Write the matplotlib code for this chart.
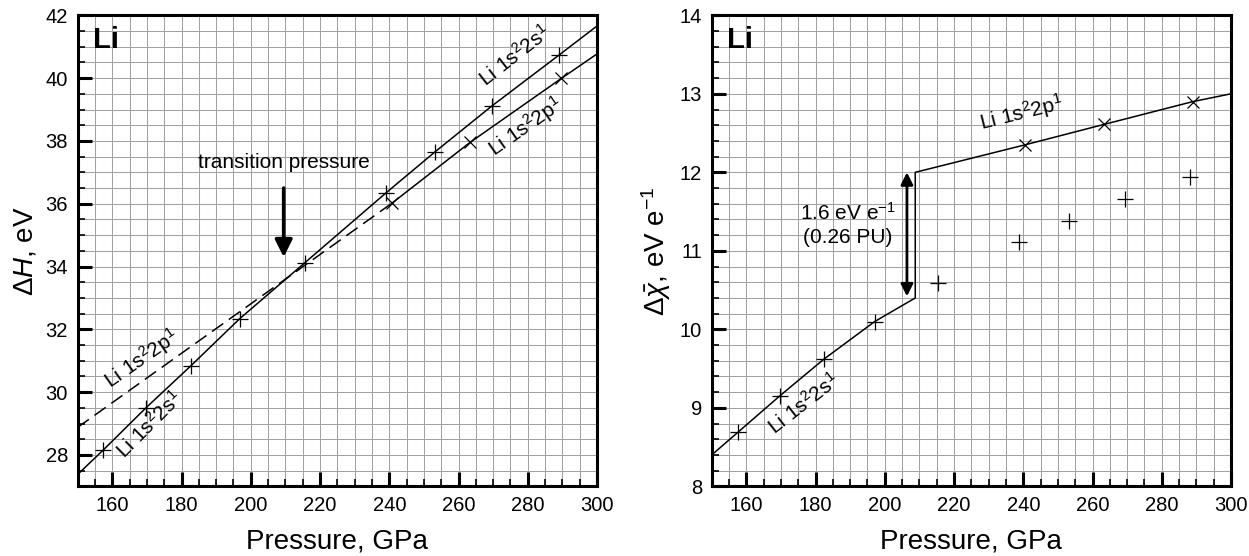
import numpy as np
import matplotlib
matplotlib.use("Agg")
import matplotlib.pyplot as plt
from matplotlib.ticker import MultipleLocator

plt.rcParams['font.family'] = ['Liberation Sans', 'DejaVu Sans']
plt.rcParams['mathtext.fontset'] = 'custom'
plt.rcParams['mathtext.rm'] = 'Liberation Sans'
plt.rcParams['mathtext.it'] = 'Liberation Sans:italic'

# =========================
# Left panel: enthalpy difference (eV)
# =========================
# Li 1s2 2s1 curve (solid, drawn through the marks)
dh_s_line_p = [150, 157.4, 169.7, 182.7, 196.8, 215.6, 239.1, 253.3, 269.6, 289.1, 300]
dh_s_line_v = [27.38, 28.16, 29.50, 30.84, 32.34, 34.12, 36.35, 37.66, 39.11, 40.74, 41.66]
dh_s_mark_p = [157.4, 169.7, 182.7, 196.8, 215.6, 239.1, 253.3, 269.6, 289.1]
dh_s_mark_v = [28.16, 29.50, 30.84, 32.34, 34.12, 36.35, 37.66, 39.11, 40.74]

# Li 1s2 2p1: dashed extrapolation at low pressure, solid above
dh_p_dash_p = [150, 240.8]
dh_p_dash_v = [28.88, 36.02]
dh_p_line_p = [240.8, 263.3, 289.7, 300]
dh_p_line_v = [36.02, 37.95, 39.99, 40.77]
dh_p_mark_p = [240.8, 263.3, 289.7]
dh_p_mark_v = [36.02, 37.95, 39.99]

TRANSITION_P = 209.5

# =========================
# Right panel: electronegativity difference (eV/e)
# =========================
dx_line_p = [150, 157.6, 169.6, 182.4, 197.1, 208.8, 208.8, 240.5, 263.3, 288.9, 300]
dx_line_v = [8.40, 8.69, 9.15, 9.62, 10.10, 10.40, 12.00, 12.35, 12.61, 12.90, 13.00]
dx_s_mark_p = [157.6, 169.6, 182.4, 197.1, 215.4, 238.9, 253.1, 269.3, 288.2]
dx_s_mark_v = [8.69, 9.15, 9.62, 10.10, 10.59, 11.11, 11.38, 11.66, 11.94]
dx_p_mark_p = [240.5, 263.3, 288.9]
dx_p_mark_v = [12.35, 12.61, 12.90]
GAP_P = 206.4
GAP_LOW, GAP_HIGH = 10.42, 12.0

S_LABEL = 'Li 1s$^{2}$2s$^{1}$'
P_LABEL = 'Li 1s$^{2}$2p$^{1}$'

TICK_FS = 14.5
LABEL_FS = 20
NOTE_FS = 15


def style_axes(ax, ymin, ymax, ymajor, yminor):
    ax.set_xlim(150, 300)
    ax.set_ylim(ymin, ymax)
    ax.xaxis.set_major_locator(MultipleLocator(20))
    ax.xaxis.set_minor_locator(MultipleLocator(5))
    ax.yaxis.set_major_locator(MultipleLocator(ymajor))
    ax.yaxis.set_minor_locator(MultipleLocator(yminor))
    ax.grid(True, which='both', color='#a2a2a2', linewidth=0.75)
    ax.set_axisbelow(True)
    ax.tick_params(which='both', direction='in', top=False, right=False,
                   labelsize=TICK_FS, pad=7)
    ax.tick_params(which='major', length=10, width=2.2)
    ax.tick_params(which='minor', length=5, width=1.2)
    for sp in ax.spines.values():
        sp.set_linewidth(2.2)
    ax.set_xlabel('Pressure, GPa', fontsize=LABEL_FS, labelpad=10)
    ax.text(0.03, 0.978, 'Li', transform=ax.transAxes, ha='left', va='top',
            fontsize=21, fontweight='bold')


def state_label(ax, x, y, text, angle):
    # anchored at the baseline start of the text, rotated along the curve
    ax.text(x, y, text, rotation=angle, rotation_mode='anchor',
            ha='left', va='baseline', fontsize=NOTE_FS)


fig = plt.figure(figsize=(12.49, 5.56), dpi=100)
ax1 = fig.add_axes([0.0622, 0.1252, 0.4158, 0.8473])
ax2 = fig.add_axes([0.5698, 0.1252, 0.4158, 0.8473])

mk = dict(linestyle='none', color='black', markersize=11, markeredgewidth=0.9)

# ---- left panel
style_axes(ax1, 27, 42, 2, 0.5)
ax1.plot(dh_s_line_p, dh_s_line_v, color='black', lw=1.1)
ax1.plot(dh_p_dash_p, dh_p_dash_v, color='black', lw=1.1, dashes=(9, 4.5))
ax1.plot(dh_p_line_p, dh_p_line_v, color='black', lw=1.1)
ax1.plot(dh_s_mark_p, dh_s_mark_v, marker='+', **mk)
ax1.plot(dh_p_mark_p, dh_p_mark_v, marker='x', **{**mk, 'markersize': 9})
ax1.set_ylabel('Δ$\\it{H}$, eV', fontsize=LABEL_FS, labelpad=5)

ax1.annotate('', xy=(TRANSITION_P, 34.3), xytext=(TRANSITION_P, 36.5),
             arrowprops=dict(arrowstyle='-|>', color='black', lw=2.6,
                             mutation_scale=26, shrinkA=0, shrinkB=0))
ax1.text(TRANSITION_P, 37.3, 'transition pressure', ha='center', va='center', fontsize=NOTE_FS)
state_label(ax1, 267.8, 39.72, S_LABEL, 38)
state_label(ax1, 270.5, 37.5, P_LABEL, 35)
state_label(ax1, 159.4, 30.09, P_LABEL, 35)
state_label(ax1, 163.6, 27.85, S_LABEL, 45)

# ---- right panel
style_axes(ax2, 8, 14, 1, 0.2)
ax2.plot(dx_line_p, dx_line_v, color='black', lw=1.1)
ax2.plot(dx_s_mark_p, dx_s_mark_v, marker='+', **mk)
ax2.plot(dx_p_mark_p, dx_p_mark_v, marker='x', **{**mk, 'markersize': 9})
ax2.set_ylabel('Δ$\\bar{\\chi}$, eV e$^{-1}$', fontsize=LABEL_FS, labelpad=5)

ax2.annotate('', xy=(GAP_P, GAP_LOW), xytext=(GAP_P, GAP_HIGH),
             arrowprops=dict(arrowstyle='<|-|>', color='black', lw=2.0,
                             mutation_scale=18, shrinkA=0, shrinkB=0))
ax2.text(189.3, 11.49, '1.6 eV e$^{-1}$', ha='center', va='center', fontsize=NOTE_FS)
ax2.text(189.3, 11.17, '(0.26 PU)', ha='center', va='center', fontsize=NOTE_FS)
state_label(ax2, 228, 12.54, P_LABEL, 14)
state_label(ax2, 168.3, 8.65, S_LABEL, 38)

fig.savefig('out.png', dpi=100)
